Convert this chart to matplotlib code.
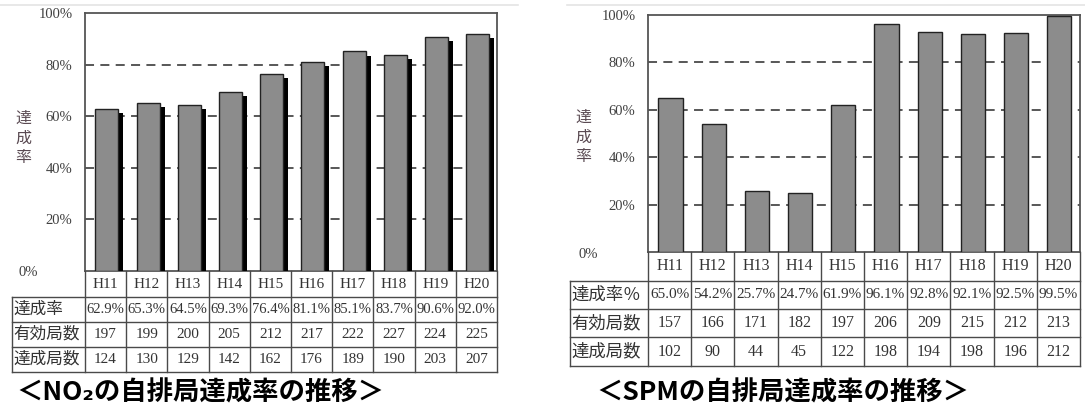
import matplotlib
matplotlib.use("Agg")
import matplotlib.pyplot as plt
import matplotlib.patheffects as pe
from matplotlib.lines import Line2D

years = ['H11', 'H12', 'H13', 'H14', 'H15', 'H16', 'H17', 'H18', 'H19', 'H20']

no2_rate = [62.9, 65.3, 64.5, 69.3, 76.4, 81.1, 85.1, 83.7, 90.6, 92.0]
no2_valid = [197, 199, 200, 205, 212, 217, 222, 227, 224, 225]
no2_ok = [124, 130, 129, 142, 162, 176, 189, 190, 203, 207]

spm_rate = [65.0, 54.2, 25.7, 24.7, 61.9, 96.1, 92.8, 92.1, 92.5, 99.5]
spm_valid = [157, 166, 171, 182, 197, 206, 209, 215, 212, 213]
spm_ok = [102, 90, 44, 45, 122, 198, 194, 198, 196, 212]

yticks = [0, 20, 40, 60, 80, 100]

W, H = 1085, 412
NUM_FONT = ['Liberation Serif', 'Noto Sans CJK JP']
JP_FONT = ['Noto Sans CJK JP', 'DejaVu Sans']
TXT = '#333333'
LINE = '#4a4a4a'

fig = plt.figure(figsize=(W / 100, H / 100), dpi=100)


def box(l, t, r, b):
    return [l / W, 1 - b / H, (r - l) / W, (b - t) / H]


def draw_chart(frame, table_left, rows, rates, valid, ok, row_labels, title,
               title_x, shadow, fs, zero_xy, ylab_xy):
    l, t, r, b = frame
    ax = fig.add_axes(box(l, t, r, b))
    x = [i + 0.5 for i in range(len(years))]
    bars = ax.bar([v + (0.03 if shadow else 0.02) for v in x], rates, width=0.56,
                  color='#8c8c8c', edgecolor='#222222', linewidth=1.0, zorder=3)
    if shadow:
        for p in bars:
            p.set_path_effects([pe.SimplePatchShadow(offset=(3.6, -3.0), shadow_rgbFace='black', alpha=1.0),
                                pe.Normal()])
    ax.set_xlim(0, len(years))
    ax.set_ylim(0, 100)
    ax.set_xticks([])
    ax.set_yticks(yticks[1:])
    ax.set_yticklabels([f'{v}%' for v in yticks[1:]], family=NUM_FONT, fontsize=10.5, color='#404040')
    ax.tick_params(axis='y', length=0, pad=9)
    for v in yticks[1:-1]:
        ax.axhline(v, color=LINE, lw=1.3, ls=(0, (5, 3.5)), zorder=1)
    for s in ax.spines.values():
        s.set_color('#555555')
        s.set_linewidth(1.3)
    fig.text(zero_xy[0] / W, 1 - zero_xy[1] / H, f'{yticks[0]}%', family=NUM_FONT, fontsize=10.5,
             color='#404040', ha='center', va='center')
    fig.text(ylab_xy[0] / W, 1 - ylab_xy[1] / H, '達\n成\n率', family=JP_FONT, fontsize=11.5,
             color='#5a4a52', ha='center', va='center', linespacing=1.2)

    # table under the bars
    cw = (r - l) / len(years)
    lw = (l - table_left) / cw
    tab = fig.add_axes(box(table_left, b, r, rows[-1]))
    tab.set_xlim(-lw, len(years))
    tab.set_ylim(rows[-1], b)
    tab.axis('off')
    kw = dict(color=LINE, lw=1.0, clip_on=False)
    for i in range(len(years) + 1):
        tab.plot([i, i], [b, rows[-1]], **kw)
    tab.plot([-lw, -lw], [rows[0], rows[-1]], **kw)
    for y in rows:
        tab.plot([-lw, len(years)], [y, y], **kw)
    for i, yr in enumerate(years):
        tab.text(i + 0.5, (b + rows[0]) / 2, yr, family=NUM_FONT, fontsize=fs + 0.5,
                 color=TXT, ha='center', va='center')
    cols = [[f'{v:.1f}%' for v in rates], [str(v) for v in valid], [str(v) for v in ok]]
    for k in range(3):
        yc = (rows[k] + rows[k + 1]) / 2
        tab.text(-lw + 0.04, yc, row_labels[k], family=JP_FONT, fontsize=fs + 1.5,
                 color=TXT, ha='left', va='center')
        for i, s in enumerate(cols[k]):
            tab.text(i + 0.5, yc, s, family=NUM_FONT, fontsize=fs if k == 0 else fs + 0.5,
                     color=TXT, ha='center', va='center')

    fig.text(title_x / W, 1 - 393 / H, title, family=JP_FONT, fontsize=19,
             fontweight='bold', color='black', ha='center', va='center')


draw_chart((85, 13, 497, 271), 12, [297, 322, 347, 372], no2_rate, no2_valid, no2_ok,
           ['達成率', '有効局数', '達成局数'], '＜NO₂の自排局達成率の推移＞', 200,
           True, 10.5, (28, 273), (23, 138))
draw_chart((648, 15, 1080, 252), 570, [281, 309, 337, 366], spm_rate, spm_valid, spm_ok,
           ['達成率％', '有効局数', '達成局数'], '＜SPMの自排局達成率の推移＞', 783,
           False, 11, (588, 255), (583, 137))

# faint border lines of the two source images
fig.add_artist(Line2D([0, 518 / W], [1 - 5 / H, 1 - 5 / H], color='#e4e4e4', lw=1.2))
fig.add_artist(Line2D([567 / W, 1], [1 - 5 / H, 1 - 5 / H], color='#e4e4e4', lw=1.2))

fig.savefig('out.png', dpi=100, facecolor='white')
